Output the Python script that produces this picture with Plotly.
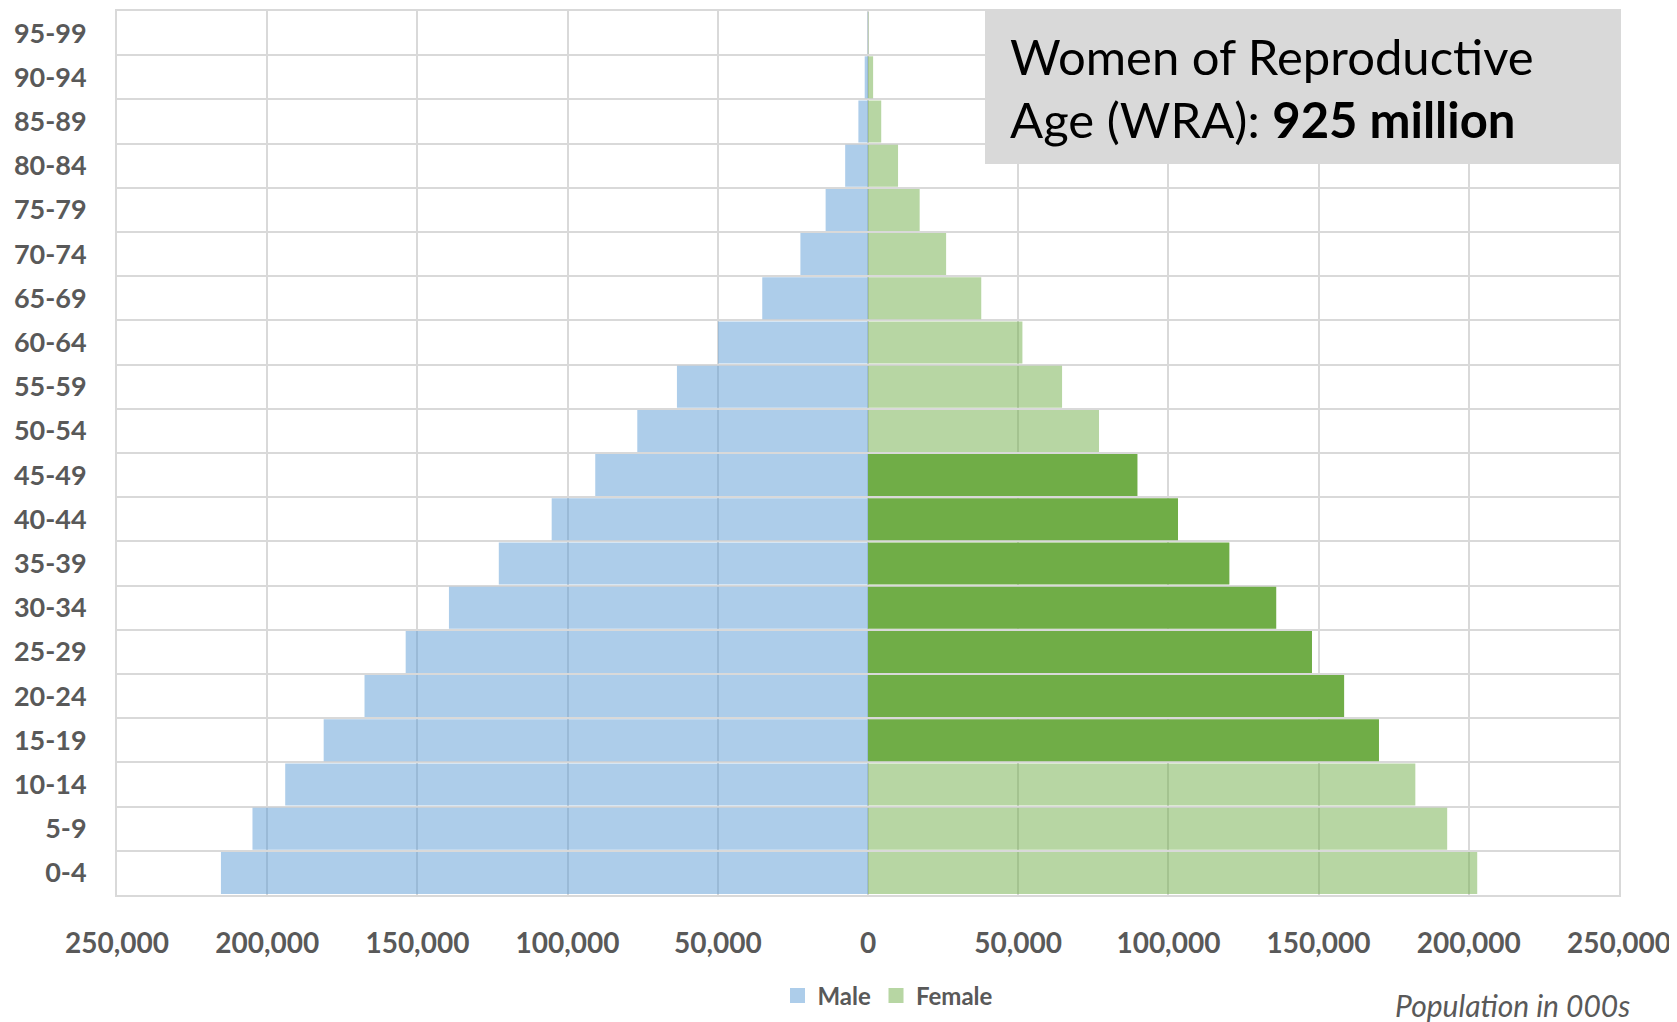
import plotly.graph_objects as go

age_groups = ["0-4", "5-9", "10-14", "15-19", "20-24", "25-29", "30-34", "35-39",
              "40-44", "45-49", "50-54", "55-59", "60-64", "65-69", "70-74",
              "75-79", "80-84", "85-89", "90-94", "95-99"]
male_pop = [215400, 204900, 194000, 181200, 167600, 153900, 139500, 122900, 105300,
            90800, 76800, 63600, 49900, 35200, 22500, 14100, 7600, 3200, 1100, 100]
female_pop = [202800, 192800, 182200, 170100, 158500, 147800, 135900, 120300, 103200,
              89700, 76900, 64600, 51400, 37700, 26000, 17200, 10000, 4400, 1700, 150]
wra_groups = ["15-19", "20-24", "25-29", "30-34", "35-39", "40-44", "45-49"]
x_ticks = [-250000, -200000, -150000, -100000, -50000, 0, 50000, 100000, 150000, 200000, 250000]
x_ticklabels = ["250,000", "200,000", "150,000", "100,000", "50,000", "0",
                "50,000", "100,000", "150,000", "200,000", "250,000"]

MALE_C = "rgba(91,155,213,0.5)"
FEM_LIGHT = "rgba(112,173,71,0.5)"
FEM_DARK = "rgb(112,173,71)"
GRID = "#D9D9D9"
TXT = "#595959"
FONT = "Lato"

female_colors = [FEM_DARK if a in wra_groups else FEM_LIGHT for a in age_groups]

# page body has an 8px margin: plot area placed so it lands where the reference has it
W, H = 1669, 1014
PL, PR, PT, PB = 109, 58, 3, 127
plot_w = W - PL - PR
plot_h = H - PT - PB
OFF = 8


def px(xpix):
    return (xpix - OFF - PL) / plot_w


def py(ypix):
    return (H - PB - (ypix - OFF)) / plot_h


fig = go.Figure()
fig.add_trace(go.Bar(
    y=age_groups, x=[-v for v in male_pop], orientation="h", name="Male",
    marker=dict(color=MALE_C, line=dict(width=0)), showlegend=False,
))
fig.add_trace(go.Bar(
    y=age_groups, x=female_pop, orientation="h", name="Female",
    marker=dict(color=female_colors, line=dict(width=0)), showlegend=False,
))
# legend entries with larger square swatches
fig.add_trace(go.Scatter(x=[None], y=[None], mode="markers", name="Male",
                         marker=dict(symbol="square", size=15, color=MALE_C)))
fig.add_trace(go.Scatter(x=[None], y=[None], mode="markers", name="Female",
                         marker=dict(symbol="square", size=15, color=FEM_LIGHT)))

fig.update_layout(
    width=W, height=H,
    margin=dict(l=PL, r=PR, t=PT, b=PB, autoexpand=False),
    paper_bgcolor="white", plot_bgcolor="white",
    barmode="overlay", bargap=0.05,
    font=dict(family=FONT, color=TXT),
    showlegend=True,
    legend=dict(orientation="h", x=px(888), xanchor="center", y=py(996), yanchor="middle",
                font=dict(family=FONT, size=24, color=TXT, weight="bold"),
                itemwidth=30, traceorder="normal", tracegroupgap=0),
    xaxis=dict(
        range=[-250000, 250000], tickvals=x_ticks, ticktext=x_ticklabels,
        showgrid=True, gridcolor=GRID, gridwidth=2,
        zeroline=True, zerolinecolor=GRID, zerolinewidth=2,
        showline=True, linecolor=GRID, linewidth=2, mirror=True,
        ticks="", ticklabelstandoff=22,
        tickfont=dict(family=FONT, size=28, color=TXT, weight="bold"),
        fixedrange=True,
    ),
    yaxis=dict(
        type="category", categoryorder="array", categoryarray=age_groups,
        tickson="boundaries", showgrid=True, gridcolor=GRID, gridwidth=2,
        showline=True, linecolor=GRID, linewidth=2, mirror=True,
        ticks="", ticklabelstandoff=23,
        tickfont=dict(family=FONT, size=27, color=TXT, weight="bold"),
        fixedrange=True,
    ),
)

# callout box
fig.add_shape(type="rect", xref="paper", yref="paper",
              x0=px(985), x1=1.0, y0=py(164), y1=1.0,
              fillcolor="#D9D9D9", line=dict(width=0), layer="above")
fig.add_annotation(xref="paper", yref="paper", x=px(1008), y=py(56),
                   xanchor="left", yanchor="middle", showarrow=False, align="left",
                   text="Women of Reproductive",
                   font=dict(family=FONT, size=49, color="black"))
fig.add_annotation(xref="paper", yref="paper", x=px(1008), y=py(119),
                   xanchor="left", yanchor="middle", showarrow=False, align="left",
                   text="Age (WRA): <b>925 million</b>",
                   font=dict(family=FONT, size=49, color="black"))
fig.add_annotation(xref="paper", yref="paper", x=px(1632), y=py(1005),
                   xanchor="right", yanchor="middle", showarrow=False,
                   text="<i>Population in 000s</i>",
                   font=dict(family=FONT, size=30, color=TXT))

fig.write_html("out.html")
